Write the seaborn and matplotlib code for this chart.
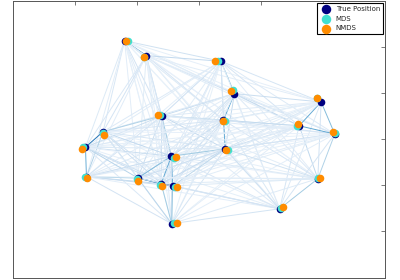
import numpy as np
import pandas as pd
import matplotlib
matplotlib.use("Agg")
import matplotlib.pyplot as plt
import seaborn as sns
from matplotlib.collections import LineCollection

sns.set_style("white")
plt.rcParams['font.family'] = ['DejaVu Sans']

# True positions
true_x = [-1.205, -0.856, 0.349, 0.567, 1.965, -0.606, 0.390, 1.611, 2.185, -1.553,
          -1.836, -0.450, 0.418, -1.820, -0.991, -0.615, -0.429, 1.912, 1.296, -0.445]
true_y = [2.129, 1.806, 1.684, 0.983, 0.802, 0.501, 0.409, 0.286, 0.108, 0.157,
          -0.178, -0.372, -0.215, -0.817, -0.845, -0.968, -1.017, -0.860, -1.512, -1.834]
# MDS
mds_x = [-1.157, -0.884, 0.294, 0.541, 1.904, -0.631, 0.413, 1.579, 2.196, -1.553,
         -1.875, -0.413, 0.455, -1.843, -1.012, -0.631, -0.397, 1.917, 1.317, -0.402]
mds_y = [2.129, 1.785, 1.684, 1.054, 0.882, 0.516, 0.387, 0.273, 0.123, 0.123,
         -0.166, -0.415, -0.237, -0.824, -0.875, -1.004, -1.039, -0.845, -1.490, -1.828]
# NMDS
nmds_x = [-1.189, -0.895, 0.252, 0.509, 1.900, -0.659, 0.390, 1.590, 2.157, -1.531,
          -1.891, -0.381, 0.434, -1.810, -0.991, -0.599, -0.358, 1.944, 1.345, -0.365]
nmds_y = [2.129, 1.770, 1.692, 1.039, 0.897, 0.516, 0.387, 0.323, 0.144, 0.092,
          -0.215, -0.381, -0.237, -0.839, -0.903, -1.011, -1.039, -0.839, -1.469, -1.828]

labels = ["True Position", "MDS", "NMDS"]
colors = ["navy", "turquoise", "darkorange"]

fig = plt.figure(figsize=(4, 2.8), dpi=100)
ax = fig.add_axes([13.3 / 400, 2.5 / 280, 372 / 400, 277 / 280])

# edges between true positions, coloured by inverse distance
tx = np.array(true_x)
ty = np.array(true_y)
segs = []
vals = []
n = len(tx)
for i in range(n):
    for j in range(i + 1, n):
        d = np.hypot(tx[i] - tx[j], ty[i] - ty[j])
        segs.append([(tx[i], ty[i]), (tx[j], ty[j])])
        vals.append(1.0 / d)
vals = np.array(vals)
lc = LineCollection(segs, cmap=plt.cm.Blues, norm=plt.Normalize(0, vals.max() * 0.6), zorder=0)
lc.set_array(vals)
lc.set_linewidth(0.7)
ax.add_collection(lc)

for xs, ys, lab, col in zip([true_x, mds_x, nmds_x], [true_y, mds_y, nmds_y], labels, colors):
    sns.scatterplot(x=xs, y=ys, ax=ax, color=col, s=30, linewidth=0, label=lab, zorder=2)

ax.set_xlim(-3, 3)
ax.set_ylim(-3, 3)
ax.set_xticks([-2, -1, 0, 1, 2])
ax.set_yticks([-2, -1, 0, 1, 2])
ax.tick_params(direction="in", length=3, width=0.5, top=True, right=True,
               labelbottom=False, labelleft=False, color="#444444")
for sp in ax.spines.values():
    sp.set_color("#555555")
    sp.set_linewidth(0.7)

leg = ax.legend(loc="upper right", fontsize=5, frameon=True, fancybox=False,
                edgecolor="black", framealpha=1, borderaxespad=0.3, scatterpoints=1,
                handletextpad=0.6, labelspacing=0.55, borderpad=0.45, handlelength=1.6,
                markerscale=1.25)
leg.get_frame().set_linewidth(0.8)

fig.savefig("out.png", dpi=100)
